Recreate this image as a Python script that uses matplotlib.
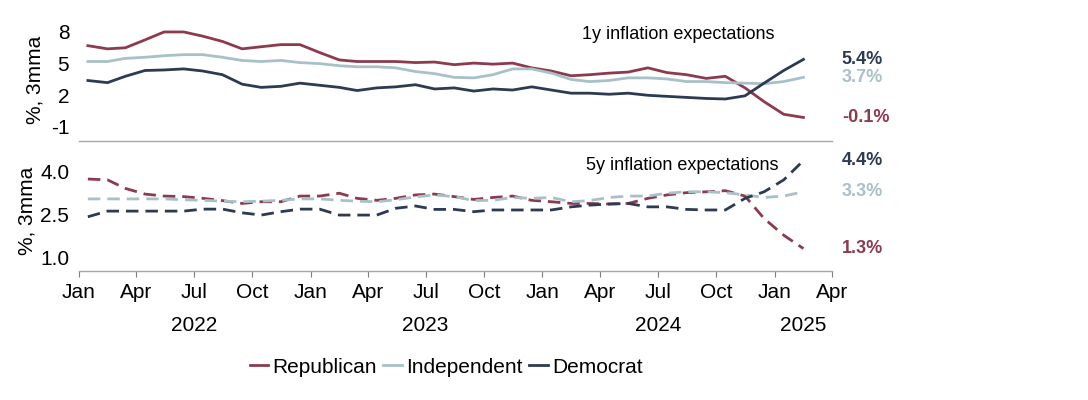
import pandas as pd
import numpy as np
import matplotlib
matplotlib.use('Agg')
import matplotlib.pyplot as plt
import matplotlib.dates as mdates
import matplotlib.transforms as mtransforms
from matplotlib import font_manager
from matplotlib.lines import Line2D

names = {f.name for f in font_manager.fontManager.ttflist}
FONT = 'Liberation Sans Narrow' if 'Liberation Sans Narrow' in names else 'Liberation Sans'
plt.rcParams['font.family'] = [FONT, 'DejaVu Sans']
plt.rcParams['axes.unicode_minus'] = False

SERIES = ['Republican', 'Independent', 'Democrat']
COLORS = ['#8C3B4F', '#A8C0C8', '#2C3A53']

# monthly, Jan 2022 - Feb 2025 (3-month moving averages)
dates = pd.date_range('2022-01-01', periods=38, freq='MS') + pd.Timedelta(days=14)

rep_1y = [6.7, 6.4, 6.5, 7.25, 8.0, 8.0, 7.6, 7.1, 6.4, 6.6, 6.8, 6.8, 6.05, 5.35, 5.2, 5.2, 5.2, 5.1, 5.15,
          4.9, 5.05, 4.95, 5.05, 4.6, 4.3, 3.85, 3.95, 4.1, 4.2, 4.6, 4.15, 3.95, 3.6, 3.8, 2.7, 1.4, 0.2, -0.1]
ind_1y = [5.2, 5.2, 5.5, 5.6, 5.75, 5.85, 5.85, 5.6, 5.3, 5.2, 5.3, 5.1, 5.0, 4.8, 4.7, 4.7, 4.6, 4.25, 4.05,
          3.7, 3.65, 3.95, 4.5, 4.5, 4.1, 3.5, 3.3, 3.4, 3.65, 3.65, 3.55, 3.3, 3.3, 3.2, 3.15, 3.1, 3.3, 3.7]
dem_1y = [3.4, 3.2, 3.8, 4.35, 4.4, 4.5, 4.3, 3.95, 3.05, 2.75, 2.85, 3.15, 2.95, 2.75, 2.45, 2.7, 2.8, 3.0, 2.6,
          2.7, 2.4, 2.6, 2.5, 2.8, 2.5, 2.2, 2.2, 2.1, 2.2, 2.0, 1.9, 1.8, 1.7, 1.65, 1.95, 3.15, 4.35, 5.4]

rep_5y = [3.75, 3.72, 3.42, 3.22, 3.15, 3.13, 3.07, 2.99, 2.89, 2.95, 2.95, 3.15, 3.15, 3.25, 3.07, 3.0, 3.07, 3.19, 3.22,
          3.13, 3.03, 3.1, 3.15, 3.0, 2.95, 2.89, 2.89, 2.87, 2.89, 3.07, 3.19, 3.27, 3.3, 3.34, 3.15, 2.36, 1.77, 1.3]
ind_5y = [3.05, 3.05, 3.05, 3.05, 3.05, 3.02, 3.0, 2.97, 2.95, 2.97, 3.0, 3.05, 3.05, 3.0, 2.97, 2.95, 3.02, 3.12, 3.19,
          3.13, 2.99, 3.0, 3.1, 3.07, 3.1, 2.95, 2.99, 3.1, 3.15, 3.15, 3.25, 3.3, 3.3, 3.27, 3.19, 3.1, 3.15, 3.3]
dem_5y = [2.42, 2.62, 2.62, 2.62, 2.62, 2.62, 2.69, 2.69, 2.56, 2.48, 2.6, 2.69, 2.69, 2.48, 2.48, 2.48, 2.72, 2.8, 2.68,
          2.68, 2.6, 2.66, 2.66, 2.66, 2.66, 2.77, 2.83, 2.87, 2.89, 2.77, 2.77, 2.68, 2.66, 2.66, 3.07, 3.3, 3.72, 4.4]

TEXT_1Y = '1y inflation expectations'
TEXT_5Y = '5y inflation expectations'
YLABEL = '%, 3mma'
YEARS = [('2022', '2022-07-01'), ('2023', '2023-07-01'), ('2024', '2024-07-01'), ('2025', '2025-02-15')]


def style_axis(ax):
    for s in ['top', 'right', 'left']:
        ax.spines[s].set_visible(False)
    ax.spines['bottom'].set_color('#A6A6A6')
    ax.spines['bottom'].set_linewidth(1.0)
    ax.tick_params(axis='y', length=0, labelsize=15, pad=7)
    ax.set_xlim(pd.Timestamp('2022-01-01'), pd.Timestamp('2025-04-01'))
    ax.xaxis.set_major_locator(mdates.MonthLocator(bymonth=[1, 4, 7, 10]))
    ax.patch.set_visible(False)


def end_labels(ax, values, colors):
    trans = mtransforms.blended_transform_factory(ax.transAxes, ax.transData)
    for v, c in zip(values, colors):
        ax.text(1.013, v, f'{v:.1f}%', transform=trans, color=c, fontsize=13,
                fontweight='bold', va='center', ha='left')


fig = plt.figure(figsize=(10.88, 4.0), dpi=100)
ax1 = fig.add_axes([0.0726, 0.6475, 0.6921, 0.3275])
ax2 = fig.add_axes([0.0726, 0.3225, 0.6921, 0.325])

# top panel: 1y
for vals, c in zip([rep_1y, ind_1y, dem_1y], COLORS):
    ax1.plot(dates, vals, color=c, lw=2.0, solid_joinstyle='round')
style_axis(ax1)
ax1.set_ylim(-2.33, 10.08)
ax1.set_yticks([8, 5, 2, -1])
ax1.tick_params(axis='x', length=0, labelbottom=False)
ax1.set_ylabel(YLABEL, fontsize=15)
ax1.yaxis.set_label_coords(-0.046, 0.47)
ax1.text(pd.Timestamp('2024-12-31'), 7.8, TEXT_1Y, fontsize=13, ha='right', va='center')
end_labels(ax1, [dem_1y[-1], ind_1y[-1], rep_1y[-1]], [COLORS[2], COLORS[1], COLORS[0]])

# bottom panel: 5y
for vals, c in zip([rep_5y, ind_5y, dem_5y], COLORS):
    ax2.plot(dates, vals, color=c, lw=2.0, dashes=(4.5, 2.5))
style_axis(ax2)
ax2.set_ylim(0.51, 5.09)
ax2.set_yticks([4.0, 2.5, 1.0])
ax2.set_yticklabels(['4.0', '2.5', '1.0'])
ax2.xaxis.set_major_formatter(mdates.DateFormatter('%b'))
ax2.tick_params(axis='x', direction='out', length=4, color='#7F7F7F', labelsize=15, pad=5)
ax2.set_ylabel(YLABEL, fontsize=15)
ax2.yaxis.set_label_coords(-0.057, 0.46)
ax2.text(pd.Timestamp('2025-01-06'), 4.22, TEXT_5Y, fontsize=13, ha='right', va='center')
end_labels(ax2, [dem_5y[-1], ind_5y[-1], rep_5y[-1]], [COLORS[2], COLORS[1], COLORS[0]])

trans = mtransforms.blended_transform_factory(ax2.transData, ax2.transAxes)
for label, d in YEARS:
    ax2.text(pd.Timestamp(d), -0.42, label, transform=trans, fontsize=15, ha='center', va='center')

handles = [Line2D([0], [0], color=c, lw=2.0) for c in COLORS]
fig.legend(handles, SERIES, loc='center', bbox_to_anchor=(0.41, 0.082), ncol=3, frameon=False,
           fontsize=15, handlelength=0.9, handletextpad=0.2, columnspacing=0.3)

fig.savefig('out.png', dpi=100)
